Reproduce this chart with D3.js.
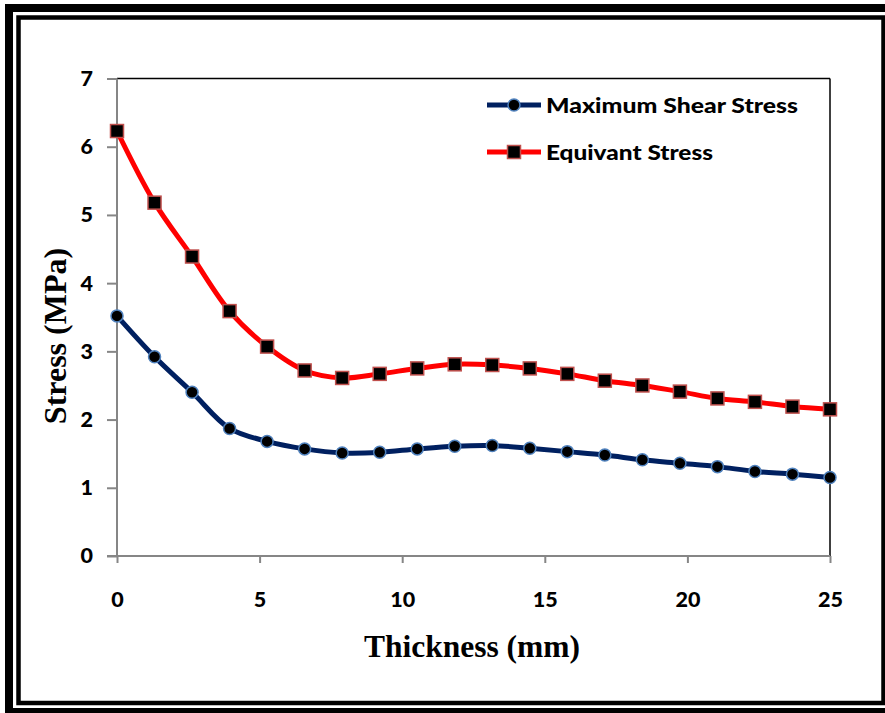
<!DOCTYPE html>
<html><head><meta charset="utf-8">
<script src="https://cdn.jsdelivr.net/npm/d3@7"></script>
<style>html,body{margin:0;padding:0;background:#fff;}svg{display:block;}</style>
</head><body>
<script>
// Data
const thickness = [0, 1.316, 2.632, 3.947, 5.263, 6.579, 7.895, 9.211, 10.526, 11.842, 13.158, 14.474, 15.789, 17.105, 18.421, 19.737, 21.053, 22.368, 23.684, 25];
const maxShear = [3.52, 2.92, 2.40, 1.87, 1.68, 1.57, 1.51, 1.52, 1.57, 1.61, 1.62, 1.58, 1.53, 1.48, 1.41, 1.36, 1.31, 1.24, 1.20, 1.15];
const equivStress = [6.23, 5.18, 4.39, 3.59, 3.07, 2.72, 2.61, 2.67, 2.75, 2.81, 2.80, 2.75, 2.67, 2.57, 2.50, 2.41, 2.31, 2.26, 2.19, 2.15];
const seriesNames = ["Maximum Shear Stress", "Equivant Stress"];
const xTicks = [0, 5, 10, 15, 20, 25];
const yTicks = [0, 1, 2, 3, 4, 5, 6, 7];
const xTitle = "Thickness (mm)";
const yTitle = "Stress (MPa)";

const W = 885, H = 713;
const svg = d3.select("body").append("svg").attr("width", W).attr("height", H);

// Frame
svg.append("rect").attr("x", 5).attr("y", 4).attr("width", 900).attr("height", 720).attr("fill", "#000");
svg.append("rect").attr("x", 13).attr("y", 12).attr("width", 900).attr("height", 696).attr("fill", "#fff");
svg.append("rect").attr("x", 18.5).attr("y", 17.5).attr("width", 865).attr("height", 685.5)
  .attr("fill", "none").attr("stroke", "#000").attr("stroke-width", 4.5);

const x = d3.scaleLinear().domain([0, 25]).range([117, 830]);
const y = d3.scaleLinear().domain([0, 7]).range([556, 78.5]);

// plot area border (top/right)
svg.append("line").attr("x1", x(0)).attr("x2", x(25)).attr("y1", y(7)).attr("y2", y(7)).attr("stroke", "#000").attr("stroke-width", 1.5);
svg.append("line").attr("x1", x(25)).attr("x2", x(25)).attr("y1", y(7)).attr("y2", y(0)).attr("stroke", "#000").attr("stroke-width", 1.5);

const tickFont = "Lato, 'Open Sans', sans-serif";

const yAxis = svg.append("g").attr("transform", `translate(${x(0)},0)`)
  .call(d3.axisLeft(y).tickValues(yTicks).tickSize(10).tickPadding(14).tickFormat(d3.format("d")));
const xAxis = svg.append("g").attr("transform", `translate(0,${y(0)})`)
  .call(d3.axisBottom(x).tickValues(xTicks).tickSize(7).tickPadding(29).tickFormat(d3.format("d")));
[xAxis, yAxis].forEach(g => {
  g.select(".domain").attr("stroke", "#868686").attr("stroke-width", 2);
  g.selectAll(".tick line").attr("stroke", "#868686").attr("stroke-width", 2);
  g.selectAll(".tick text").attr("fill", "#000").style("font-family", tickFont)
    .style("font-weight", "900").style("font-size", "21.5px");
});
yAxis.select(".domain").attr("d", `M0,${y(7)}V${y(0)}`);
xAxis.select(".domain").attr("d", `M${x(0)-10},0H${x(25)}`);

// Titles
svg.append("text").attr("x", 472).attr("y", 657).attr("text-anchor", "middle")
  .style("font-family", "'Liberation Serif', 'Times New Roman', serif").style("font-weight", "bold").style("font-size", "31.5px")
  .text(xTitle);
svg.append("text").attr("transform", "translate(66,336) rotate(-90)").attr("text-anchor", "middle")
  .style("font-family", "'Liberation Serif', 'Times New Roman', serif").style("font-weight", "bold").style("font-size", "32px")
  .text(yTitle);

// Lines
const line = d3.line().x(d => x(d[0])).y(d => y(d[1])).curve(d3.curveCatmullRom.alpha(0.5));
const blueData = thickness.map((t, i) => [t, maxShear[i]]);
const redData = thickness.map((t, i) => [t, equivStress[i]]);

svg.append("path").datum(blueData).attr("d", line).attr("fill", "none").attr("stroke", "#002060").attr("stroke-width", 5).attr("stroke-linejoin", "round");
svg.append("path").datum(redData).attr("d", line).attr("fill", "none").attr("stroke", "#ff0000").attr("stroke-width", 5).attr("stroke-linejoin", "round");

svg.selectAll(".bm").data(blueData).enter().append("circle")
  .attr("cx", d => x(d[0])).attr("cy", d => y(d[1])).attr("r", 6)
  .attr("fill", "#000").attr("stroke", "#4f81bd").attr("stroke-width", 1.5);
svg.selectAll(".rm").data(redData).enter().append("rect")
  .attr("x", d => x(d[0]) - 6.5).attr("y", d => y(d[1]) - 6.5).attr("width", 13).attr("height", 13)
  .attr("fill", "#000").attr("stroke", "#c0504d").attr("stroke-width", 1.5);

// Legend
const leg = svg.append("g");
const legY = [105, 152];
const legWidths = [252, 167];
seriesNames.forEach((name, i) => {
  const ly = legY[i];
  leg.append("line").attr("x1", 487).attr("x2", 541).attr("y1", ly).attr("y2", ly)
    .attr("stroke", i === 0 ? "#002060" : "#ff0000").attr("stroke-width", 5);
  if (i === 0) {
    leg.append("circle").attr("cx", 514).attr("cy", ly).attr("r", 6).attr("fill", "#000").attr("stroke", "#4f81bd").attr("stroke-width", 1.5);
  } else {
    leg.append("rect").attr("x", 514 - 6.5).attr("y", ly - 6.5).attr("width", 13).attr("height", 13).attr("fill", "#000").attr("stroke", "#c0504d").attr("stroke-width", 1.5);
  }
  leg.append("text").attr("x", 546).attr("y", ly + 7.5)
    .attr("textLength", legWidths[i]).attr("lengthAdjust", "spacingAndGlyphs")
    .style("font-family", tickFont).style("font-weight", "900").style("font-size", "21px")
    .text(name);
});
</script>
</body></html>
